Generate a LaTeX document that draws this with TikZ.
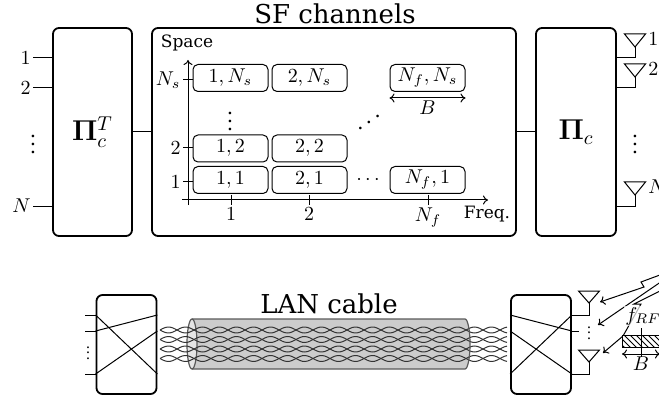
\documentclass[tikz,border=0pt]{standalone}
\usepackage[no-math]{fontspec}
\setmainfont{DejaVu Serif}
\usetikzlibrary{arrows.meta,positioning,calc,patterns}

\begin{document}
\begin{tikzpicture}[
  x=0.5pt, y=-0.5pt,
  >={To[length=2.5pt,width=4.5pt]},
  blk/.style={draw, line width=0.9pt, rounded corners=3pt, inner sep=0pt,
              minimum width=#1, minimum height=104pt,
              font=\fontsize{14.5}{17}\selectfont},
  blk/.default=39.5pt,
  sblk/.style={draw, line width=0.9pt, rounded corners=3pt, inner sep=0pt,
               minimum width=30pt, minimum height=49.5pt},
  cell/.style={draw, line width=0.5pt, rounded corners=2.5pt, inner sep=0pt,
               minimum width=37.5pt, minimum height=13.5pt,
               font=\fontsize{10}{12}\selectfont},
  wire/.style={line width=0.5pt},
  pair/.style={draw=black!80, line width=0.5pt},
  cable/.style={draw=black!65, line width=0.6pt},
  ttl/.style={font=\fontsize{13}{15}\selectfont, inner sep=0pt},
  lbl/.style={font=\fontsize{10}{12}\selectfont, inner sep=1pt},
  dotl/.style={font=\fontsize{10}{12}\selectfont, inner sep=0pt},
  axl/.style={font=\fontsize{8.5}{10}\selectfont, inner sep=0pt},
]
\useasboundingbox (0,0) rectangle (659,401);

% ---- upper chain: permutation, SF channels, permutation ----
\node[blk] (permT) at (92.5,132) {$\mathbf{\Pi}_c^T$};
\node[blk=182pt] (sfc) at (334,132) {};
\node[blk=40pt] (perm) at (576,132) {$\mathbf{\Pi}_c$};
\node[ttl] (sftitle) at (335,14) {SF channels};

\draw[wire] (permT) -- (sfc);
\draw[wire] (sfc) -- (perm);

% inputs
\foreach \y/\t [count=\i] in {58/1,88/2,206/N} {
  \coordinate (in\i) at (33,\y);
  \draw[wire] (in\i) -- (in\i -| permT.west);
  \node[lbl, left] (inl\i) at (in\i) {$\t$};
}
\node[dotl] (indots) at (33,138) {$\vdots$};

% antennas on the right
\foreach \y/\t [count=\i] in {58/1,88/2,206/N} {
  \coordinate (port\i) at (635,\y);
  \coordinate (ant\i) at (635,\y-11);
  \draw[wire] (port\i -| perm.east) -- (port\i) -- (ant\i);
  \draw[wire] (ant\i) -- ++(-10.5,-13) -- ++(21,0) -- cycle;
  \node[lbl, anchor=west] (antl\i) at (646,\y-19) {$\t$};
}
\node[dotl] (antdots) at (635,138) {$\vdots$};

% space/frequency grid
\coordinate (ybot) at (188,205);
\coordinate (ytop) at (188,60);
\coordinate (xlft) at (182,200);
\coordinate (xrgt) at (488,200);
\draw[wire,->] (ybot) -- (ytop);
\draw[wire,->] (xlft) -- (xrgt);
\node[axl] (spc) at (187,43) {Space};
\node[axl] (frq) at (487,214) {Freq.};

\foreach \y/\t in {182/1,148/2,80/N_s}
  \draw[wire] (183,\y) -- (193,\y) node[lbl, pos=0, left] {$\t$};
\foreach \x/\t in {231/1,309/2,428/N_f}
  \draw[wire] (\x,195) -- (\x,205) node[lbl, below] {$\t$};

\node[cell] (c11) at (230.5,180) {$1,1$};
\node[cell] (c21) at (309.5,180) {$2,1$};
\node[cell] (cf1) at (427.5,180) {$N_f,1$};
\node[cell] (c12) at (230.5,148.5) {$1,2$};
\node[cell] (c22) at (309.5,148.5) {$2,2$};
\node[cell] (c1s) at (230.5,78) {$1,N_s$};
\node[cell] (c2s) at (309.5,78) {$2,N_s$};
\node[cell] (cfs) at (427.5,78) {$N_f,N_s$};

\node[dotl] (vd) at (230,115) {$\vdots$};
\node[dotl] (dd) at (369,116) {\reflectbox{$\ddots$}};
\node[dotl] (hd) at (368,180) {$\cdots$};

\draw[wire,<->] ([yshift=-3pt]cfs.south west) -- ([yshift=-3pt]cfs.south east)
  node[lbl, midway, below] (bw) {$B$};

% ---- lower chain: switch, LAN cable, switch ----
\node[sblk] (mixl) at (126.5,344.5) {};
\node[sblk] (mixr) at (541,344.5) {};
\node[ttl] (lantitle) at (329,304) {LAN cable};

\foreach \y [count=\i] in {315,331,374} {
  \coordinate (bin\i) at (85,\y);
  \draw[wire] (bin\i) -- (bin\i -| mixl.west);
}
\node[dotl] (bdots) at (88,349) {\scalebox{0.7}{$\vdots$}};

\draw[wire] (bin1 -| mixl.west) -- (bin3 -| mixl.east);
\draw[wire] (bin2 -| mixl.west) -- (bin1 -| mixl.east);
\draw[wire] (bin3 -| mixl.west) -- (bin2 -| mixl.east);

% cable body
\fill[black!20] (192,319) -- (465,319)
  arc[start angle=90, end angle=-90, x radius=2.5pt, y radius=12.5pt]
  -- (192,369) -- cycle;
\draw[cable, fill=black!10] (192,344) ellipse [x radius=2.5pt, y radius=12.5pt];

% twisted pairs
\foreach \yy in {330,339.5,349,358.5} {
  \draw[pair] plot[domain=160:507, samples=140, smooth]
    (\x, {\yy+3*sin((\x-160)/17*180)});
  \draw[pair] plot[domain=160:507, samples=140, smooth]
    (\x, {\yy-3*sin((\x-160)/17*180)});
}
\draw[cable] (192,319) -- (465,319)
  arc[start angle=90, end angle=-90, x radius=2.5pt, y radius=12.5pt]
  -- (192,369);

% receiving side
\draw[wire] (bin1 -| mixr.west) -- (bin2 -| mixr.east);
\draw[wire] (bin2 -| mixr.west) -- (bin3 -| mixr.east);
\draw[wire] (bin3 -| mixr.west) -- (bin1 -| mixr.east);

\coordinate (bport1) at (589,315);
\coordinate (bport2) at (579,331);
\coordinate (bport3) at (589,374);
\coordinate (bant1) at (589,303);
\coordinate (bant3) at (589,362);
\draw[wire] (bport1 -| mixr.east) -- (bport1) -- (bant1);
\draw[wire] (bport2 -| mixr.east) -- (bport2);
\draw[wire] (bport3 -| mixr.east) -- (bport3) -- (bant3);
\foreach \a in {bant1,bant3}
  \draw[wire] (\a) -- ++(-10.5,-12) -- ++(21,0) -- cycle;
\node[dotl] (rdots) at (589,329) {\scalebox{0.7}{$\vdots$}};

% incoming signals (lightning paths)
\coordinate (rx1) at (600,302);
\coordinate (rx2) at (598,325);
\coordinate (rx3) at (603,353);
\draw[wire,->] (668,272) -- (641,282) -- (644,287) -- (rx1);
\draw[wire,->] (668,277) -- (rx2);
\draw[wire,->] (668,287) -- (634,304) -- (641,304) -- (623,336) -- (rx3);

\node[lbl, fill=white, fill opacity=0.7, text opacity=1, inner sep=0.5pt]
  (frf) at (643,316) {$f_{RF}$};
\fill[white] (622,335) rectangle (660,347);
\draw[wire, pattern=north west lines] (622,335) rectangle (660,347);
\coordinate (fc) at (641,328);
\draw[wire] (fc) -- (641,357);
\draw[wire,<->] (622,354) -- (660,354) node[lbl, midway, below] (bw2) {$B$};
\end{tikzpicture}
\end{document}
